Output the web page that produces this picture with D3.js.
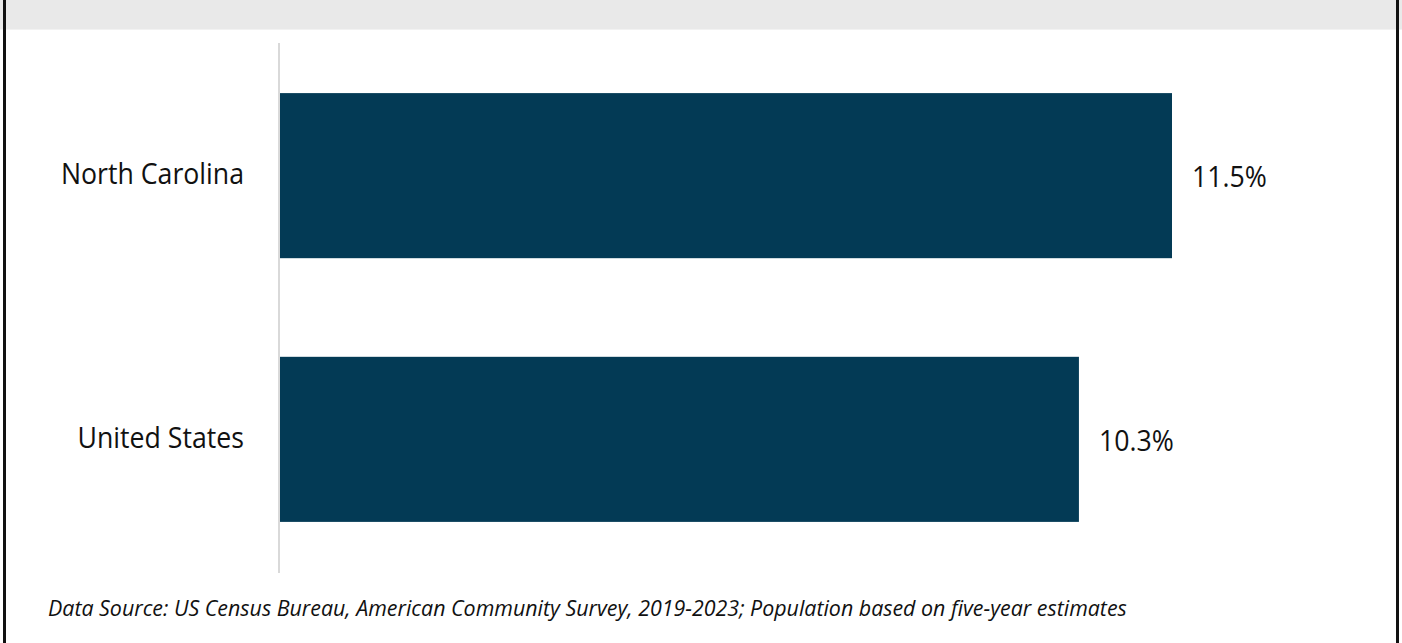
<!DOCTYPE html>
<html>
<head>
<meta charset="utf-8">
<script src="https://cdn.jsdelivr.net/npm/d3@7"></script>
<style>
  html, body { margin: 0; padding: 0; background: #fff; }
  svg { display: block; }
  .lbl { font-family: "Open Sans", "Noto Sans", sans-serif; fill: #111; }
  .src { font-family: "Open Sans", "Noto Sans", sans-serif; font-style: italic; fill: #111; }
</style>
</head>
<body>
<svg id="chart" width="1402" height="643"></svg>
<script>
// Share of population, by geography (percent)
const categories = ["North Carolina", "United States"];
const values = [11.5, 10.3];
const valueLabels = ["11.5%", "10.3%"];
const sourceNote = "Data Source: US Census Bureau, American Community Survey, 2019-2023; Population based on five-year estimates";

const W = 1402, H = 643;
const NARROW = 0.89; // horizontal squeeze for the semi-condensed label type
const svg = d3.select("#chart");

// header band and frame
svg.append("rect").attr("x", 0).attr("y", 0).attr("width", W).attr("height", 29).attr("fill", "#e9e9e9");
svg.append("rect").attr("x", 0).attr("y", 29).attr("width", W).attr("height", 1).attr("fill", "#f2f2f2");
svg.append("rect").attr("x", 3).attr("y", 0).attr("width", 3).attr("height", H).attr("fill", "#111");
svg.append("rect").attr("x", 1396).attr("y", 0).attr("width", 3).attr("height", H).attr("fill", "#111");

const x = d3.scaleLinear().domain([0, 11.5]).range([280, 1172]);
const y = d3.scaleBand().domain(categories).range([43, 572]).paddingInner(0.374).paddingOuter(0.19);

// baseline axis
svg.append("line")
  .attr("x1", 279).attr("x2", 279)
  .attr("y1", 43).attr("y2", 573)
  .attr("stroke", "#d9d9d9").attr("stroke-width", 2);

// bars
svg.selectAll("rect.bar")
  .data(categories)
  .join("rect")
  .attr("class", "bar")
  .attr("x", x(0))
  .attr("y", d => y(d))
  .attr("width", (d, i) => x(values[i]) - x(0))
  .attr("height", y.bandwidth())
  .attr("fill", "#033a55");

// category labels
svg.selectAll("text.cat")
  .data(categories)
  .join("text")
  .attr("class", "lbl cat")
  .attr("transform", d => `translate(244,${y(d) + y.bandwidth() / 2}) scale(${NARROW},1)`)
  .attr("dy", "0.29em")
  .attr("text-anchor", "end")
  .attr("font-size", 30)
  .text(d => d);

// value labels
svg.selectAll("text.val")
  .data(categories)
  .join("text")
  .attr("class", "lbl val")
  .attr("transform", (d, i) => `translate(${x(values[i]) + 20},${y(d) + y.bandwidth() / 2}) scale(${NARROW},1)`)
  .attr("dy", "0.38em")
  .attr("font-size", 30)
  .text((d, i) => valueLabels[i]);

// source note
svg.append("text")
  .attr("class", "src")
  .attr("x", 48)
  .attr("y", 616)
  .attr("font-size", 21.4)
  .text(sourceNote);
</script>
</body>
</html>
